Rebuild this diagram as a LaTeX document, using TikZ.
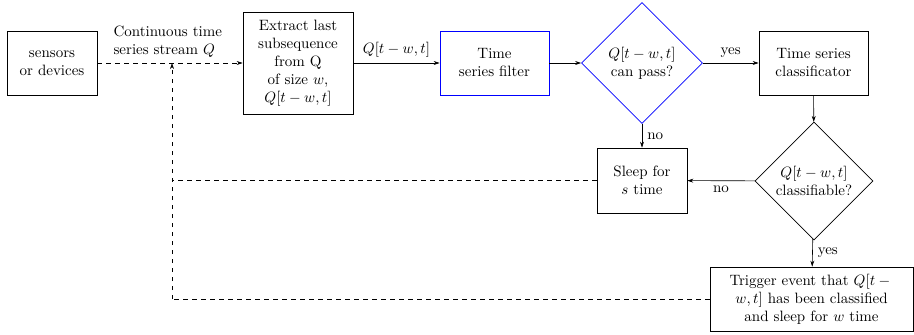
\documentclass[tikz,border=0pt]{standalone}
\usetikzlibrary{shapes.geometric,arrows.meta}
\begin{document}
\begin{tikzpicture}[x=0.6667pt,y=-0.6667pt,
 box/.style={draw, align=center, inner sep=2pt},
 dec/.style={draw, diamond, aspect=1, align=center, inner sep=0pt},
 arr/.style={-{Stealth[length=4pt,width=2.6pt]}},
 darr/.style={dashed, -{Stealth[length=4pt,width=2.6pt]}}]
\useasboundingbox (0,0) rectangle (914,335);
\node[box, minimum width=60pt, minimum height=42.7pt] (src) at (52,63) {sensors\\or devices};
\node[box, minimum width=73.3pt, minimum height=68pt] (ext) at (298,63) {Extract last\\subsequence\\from Q\\of size $w$,\\$Q[t-w,t]$};
\node[box, draw=blue, minimum width=72.7pt, minimum height=42.7pt] (flt) at (494.5,63) {Time\\series filter};
\node[dec, draw=blue, minimum width=80.7pt, minimum height=80.7pt] (pass) at (642,63) {$Q[t-w,t]$\\can pass?};
\node[box, minimum width=72.7pt, minimum height=42.7pt] (cls) at (813.5,63) {Time series\\classificator};
\node[dec, minimum width=78.7pt, minimum height=78.7pt] (cbl) at (814,181) {$Q[t-w,t]$\\classifiable?};
\node[box, minimum width=60pt, minimum height=43.3pt] (slp) at (642,180.5) {Sleep for\\$s$ time};
\node[box, minimum width=135.3pt, minimum height=42.7pt] (trg) at (811.5,299) {Trigger event that $Q[t-{}$\\$w,t]$ has been classified\\and sleep for $w$ time};
\coordinate (j) at (172,63);
\coordinate (b2) at (172,299);
\draw[darr] (src) -- node[above, align=left, xshift=-1.5pt] {Continuous time\\series stream $Q$} (ext);
\draw[dashed] (trg.west) -- (b2);
\draw[darr] (b2) -- (j);
\draw[dashed] (slp.west) -- (slp.west -| j);
\draw[arr] (ext) -- node[above] {$Q[t-w,t]$} (flt);
\draw[arr] (flt) -- (pass);
\draw[arr] (pass) -- node[above] {yes} (cls);
\draw[arr] (pass) -- node[right] {no} (slp);
\draw[arr] (cls) -- (cbl);
\draw[arr] (cbl) -- node[below] {no} (slp);
\draw[arr] (cbl) -- node[right] {yes} (trg);
\end{tikzpicture}
\end{document}
